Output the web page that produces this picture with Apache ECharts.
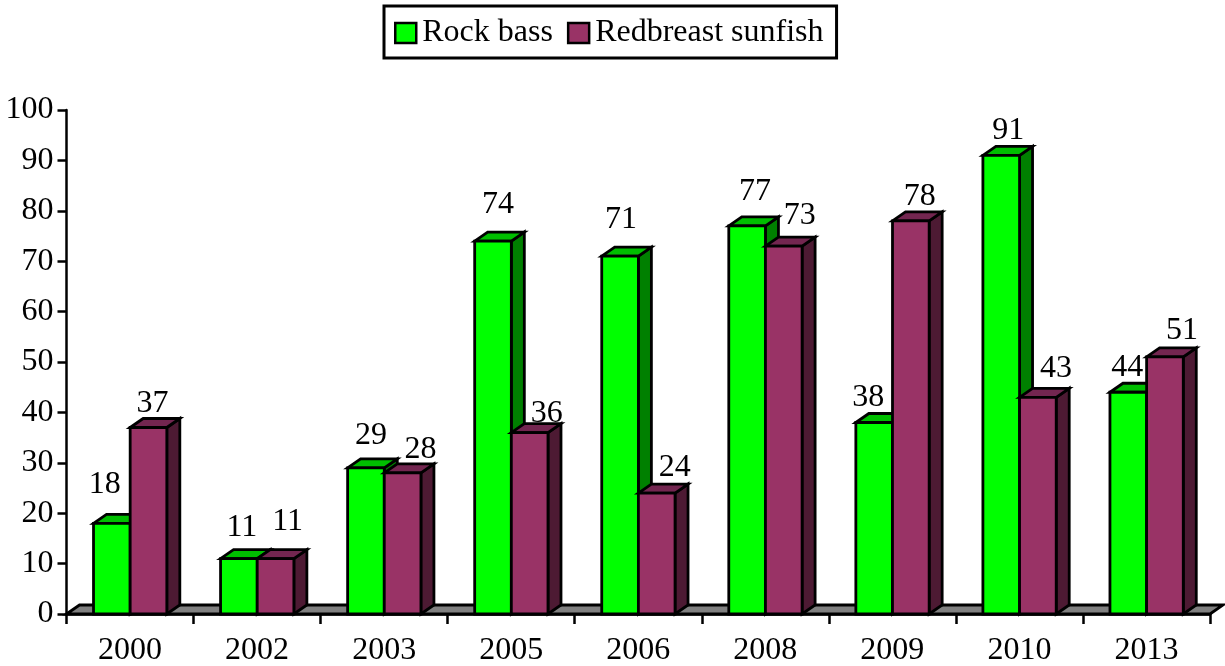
<!DOCTYPE html>
<html>
<head>
<meta charset="utf-8">
<script src="https://cdn.jsdelivr.net/npm/echarts@6/dist/echarts.min.js"></script>
<style>html,body{margin:0;padding:0;background:#fff}#c{width:1225px;height:666px}</style>
</head>
<body>
<div id="c"></div>
<script>
var years = ['2000','2002','2003','2005','2006','2008','2009','2010','2013'];
var rockBass = [18,11,29,74,71,77,38,91,44];
var redbreast = [37,11,28,36,24,73,78,43,51];
var yTicks = {min:0,max:100,interval:10};
// hand-placed label nudges of the original chart (px from the bar's top centre)
var rockLabelDx = [-7,3,5,5,1,8,-6,7,-1];
var rockLabelDy = [-39,-31,-32,-36,-37,-34,-25,-25,-25];
var redLabelDx = [4,12,18,17,18,16,9,18,17];
var redLabelDy = [-24,-37,-23,-19,-25,-30,-24,-29,-26];

var FONT = '"Liberation Serif","Times New Roman",serif';
var FS = 32;
var DX = 13, DY = 9;
var STROKE = {stroke:'#000',lineWidth:2.8,lineJoin:'miter'};

function barRenderer(slot, front, top, side, ldx, ldy){
  return function(params, api){
    var i = api.value(0), v = api.value(1);
    var p = api.coord([i, v]), base = api.coord([i, 0]);
    var band = api.size([1,0])[0];
    var w = band * 0.2885;
    var x = p[0] - band/2 + band*0.2126 + slot*w;
    var y = p[1], y0 = base[1];
    var st = function(fill){ return Object.assign({fill:fill}, STROKE); };
    return {type:'group', children:[
      {type:'polygon', shape:{points:[[x+w,y],[x+w+DX,y-DY],[x+w+DX,y0-DY],[x+w,y0]]}, style:st(side)},
      {type:'polygon', shape:{points:[[x,y],[x+DX,y-DY],[x+w+DX,y-DY],[x+w,y]]}, style:st(top)},
      {type:'rect', shape:{x:x,y:y,width:w,height:y0-y}, style:st(front)},
      {type:'text', z2:10, style:{text:String(v), x:x+w/2+ldx[i], y:y+ldy[i], align:'center', verticalAlign:'middle',
        font:FS+'px '+FONT, fill:'#000'}}
    ]};
  };
}

var chart = echarts.init(document.getElementById('c'), null, {renderer:'canvas'});
chart.setOption({
  animation:false,
  backgroundColor:'#fff',
  grid:{left:66.5,right:15,top:110,bottom:52,containLabel:false,outerBoundsMode:'none'},
  legend:{
    top:6,left:384,
    data:[{name:'Rock bass'},{name:'Redbreast sunfish'}],
    icon:'rect',
    itemWidth:21,itemHeight:20,itemGap:14,
    padding:[11,13,9,10],
    borderColor:'#000',borderWidth:3,backgroundColor:'#fff',
    textStyle:{fontFamily:FONT,fontSize:FS,color:'#000',padding:[2,0,0,1]},
    itemStyle:{borderColor:'#000',borderWidth:2.5}
  },
  xAxis:{type:'category',data:years,boundaryGap:true,
    axisLine:{show:true,onZero:false,lineStyle:{color:'#000',width:2.5}},
    axisTick:{show:true,length:10,alignWithLabel:false,lineStyle:{color:'#000',width:2.5}},
    axisLabel:{show:true,interval:0,margin:21,fontFamily:FONT,fontSize:FS,color:'#000'},
    splitLine:{show:false}},
  yAxis:{type:'value',min:yTicks.min,max:yTicks.max,interval:yTicks.interval,
    axisLine:{show:true,lineStyle:{color:'#000',width:2.5}},
    axisTick:{show:true,length:9,lineStyle:{color:'#000',width:2.5}},
    axisLabel:{show:true,margin:13,padding:[4,0,0,0],fontFamily:FONT,fontSize:FS,color:'#000'},
    splitLine:{show:false}},
  series:[
    {type:'custom',silent:true,z:2,clip:false,data:[[0,0]],encode:{x:0,y:1},
     renderItem:function(params,api){
       var cs=params.coordSys, y0=api.coord([0,0])[1], x=cs.x, r=cs.x+cs.width;
       return {type:'polygon',shape:{points:[[x,y0],[x+DX,y0-DY],[r+DX,y0-DY],[r,y0]]},
         style:Object.assign({fill:'#808080'},STROKE)};
     }},
    {name:'Rock bass',type:'custom',z:3,clip:false,
     itemStyle:{color:'#00ff00'},
     data:rockBass.map(function(v,i){return [i,v];}),encode:{x:0,y:1},
     renderItem:barRenderer(0,'#00ff00','#00bf00','#008000',rockLabelDx,rockLabelDy)},
    {name:'Redbreast sunfish',type:'custom',z:4,clip:false,
     itemStyle:{color:'#993366'},
     data:redbreast.map(function(v,i){return [i,v];}),encode:{x:0,y:1},
     renderItem:barRenderer(1,'#993366','#732650','#4d1a33',redLabelDx,redLabelDy)}
  ]
});
</script>
</body>
</html>
